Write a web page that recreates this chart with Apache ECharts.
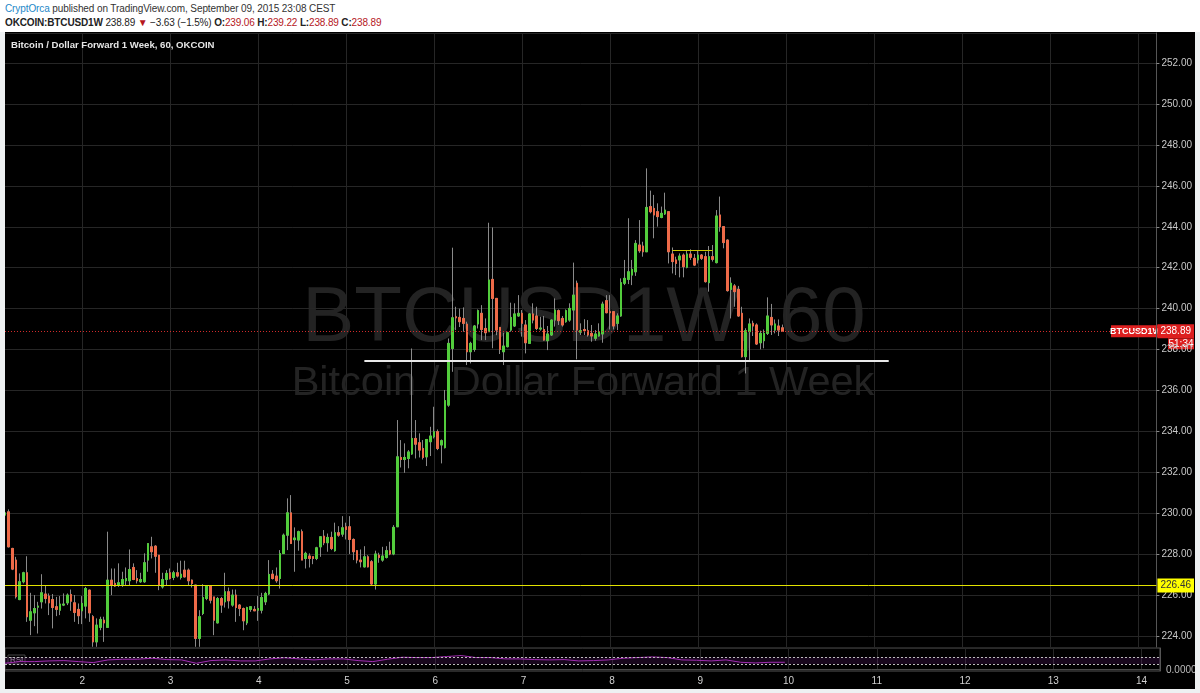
<!DOCTYPE html>
<html>
<head>
<meta charset="utf-8">
<script src="https://cdn.jsdelivr.net/npm/echarts@6/dist/echarts.min.js"></script>
<style>
html, body { margin:0; padding:0; width:1200px; height:693px; overflow:hidden; background:#eef1f2; font-family:"Liberation Sans", Arial, sans-serif; }
#head { position:absolute; left:0; top:0; width:1200px; height:32px; background:#fff; }
#l1 { position:absolute; left:5px; top:3px; font-size:10px; letter-spacing:-0.1px; color:#333; white-space:nowrap; }
#l2 { position:absolute; left:5px; top:17px; font-size:10px; letter-spacing:-0.15px; color:#222; white-space:nowrap; }
.b { font-weight:bold; }
.r { color:#b5171d; }
#main { position:absolute; left:5px; top:32px; width:1190px; height:657px; background:#000; }
</style>
</head>
<body>
<div id="head">
  <div id="l1"><span style="color:#1e88c8">CryptOrca</span> published on TradingView.com, September 09, 2015 23:08 CEST</div>
  <div id="l2"><span class="b">OKCOIN:BTCUSD1W</span> 238.89 <span class="r">▼</span> −3.63 (−1.5%) <span class="b">O:</span><span class="r">239.06</span> <span class="b">H:</span><span class="r">239.22</span> <span class="b">L:</span><span class="r">238.89</span> <span class="b">C:</span><span class="r">238.89</span></div>
</div>
<div id="main"></div>
<script>
// hourly candles, Sep 1 03:00 -> Sep 9 23:00
var opens = [229.90,230.06,228.27,227.70,225.77,226.64,227.08,224.76,225.12,225.40,
  225.66,226.04,225.94,225.77,225.42,225.25,225.50,225.61,226.02,225.61,
  225.29,225.22,225.45,226.23,224.93,223.70,224.41,224.76,224.41,226.72,
  226.56,226.48,226.52,226.69,226.69,227.34,226.80,226.64,226.64,227.70,
  228.35,228.38,227.94,226.39,226.75,227.08,226.85,227.08,226.85,227.21,
  227.21,226.72,226.48,223.87,225.09,225.82,226.43,225.90,224.63,225.82,
  225.66,226.15,225.50,225.99,225.50,225.33,224.63,225.29,225.29,225.25,
  225.25,225.66,226.04,227.01,226.92,226.80,228.02,228.92,230.01,228.70,
  228.68,229.09,227.78,227.90,227.87,227.78,228.35,228.87,228.55,228.81,
  228.16,229.04,228.97,229.33,229.33,228.71,228.16,227.70,227.37,227.86,
  227.62,226.53,227.94,227.70,227.83,228.16,228.00,229.33,232.72,232.62,
  232.67,232.89,233.65,233.44,233.16,232.75,233.49,233.73,233.98,233.33,
  233.20,235.28,238.05,239.60,239.57,239.52,239.24,237.89,238.00,239.25,
  239.77,239.03,238.87,241.43,240.50,239.08,237.89,238.14,238.95,239.15,
  239.64,239.77,239.20,238.30,239.74,239.64,239.00,238.98,238.43,238.71,
  239.44,239.90,239.52,239.36,239.44,239.93,241.24,238.85,238.98,238.92,
  238.79,238.55,238.66,238.76,240.39,239.85,239.85,239.28,239.64,241.24,
  241.43,241.64,241.80,243.11,243.06,242.78,244.99,244.90,244.74,244.46,
  244.63,244.74,242.67,242.38,242.38,242.62,242.02,242.67,242.46,242.38,
  242.62,242.54,241.27,242.54,242.25,244.58,244.01,243.35,240.94,241.11,
  240.94,239.77,237.65,238.87,239.28,239.20,238.33,238.43,238.79,239.57,
  238.95,239.15,239.06];
var closes = [230.01,228.35,227.26,225.91,226.64,227.08,224.93,225.17,225.33,225.45,
  226.10,225.82,225.61,225.38,225.29,225.55,225.55,225.99,225.69,225.14,
  224.98,225.58,226.31,225.12,223.70,224.52,224.80,224.63,226.72,226.48,
  226.43,226.59,226.75,226.80,227.24,226.75,226.69,226.75,227.57,228.51,
  228.11,227.89,226.48,226.75,227.05,226.80,227.08,226.92,227.01,226.88,
  226.69,226.56,223.87,224.93,225.87,226.43,225.74,224.76,225.82,225.50,
  226.15,225.71,225.99,225.38,225.33,224.73,225.38,225.42,225.22,225.33,
  225.87,226.07,227.00,226.80,226.69,228.02,228.92,230.01,228.51,228.78,
  229.09,227.70,228.03,227.78,227.78,228.30,228.84,228.55,228.81,228.27,
  229.04,228.92,229.28,229.20,228.71,228.11,227.70,227.62,227.86,227.37,
  226.53,228.00,227.83,227.90,228.16,228.00,229.30,232.75,232.62,232.72,
  232.99,233.65,233.37,233.08,232.72,233.60,233.77,233.98,233.16,233.54,
  235.50,238.30,239.55,239.55,239.36,239.28,237.89,238.30,239.15,239.90,
  238.98,238.82,241.40,240.50,238.95,238.00,238.17,238.82,239.57,239.74,
  239.77,239.28,238.33,239.74,239.44,239.03,239.05,238.46,238.76,239.44,
  239.93,239.41,239.20,239.90,240.01,240.66,238.95,238.92,238.92,238.71,
  238.66,238.76,238.87,240.22,239.80,239.80,239.15,239.64,241.27,241.48,
  241.80,241.92,243.19,242.83,242.78,244.95,244.74,244.58,244.50,244.66,
  244.82,242.78,242.30,242.21,242.57,242.05,242.67,242.51,242.13,242.62,
  242.46,241.32,242.54,242.41,244.53,244.01,243.23,240.88,241.24,240.83,
  239.64,237.65,238.92,239.25,239.15,238.27,238.79,238.79,239.64,239.20,
  239.25,238.95,238.89];
var lows = [229.00,228.32,227.21,225.82,225.74,226.56,224.68,224.03,224.47,224.11,
  225.33,225.58,225.01,224.36,224.96,225.01,225.45,225.50,225.22,224.68,
  224.57,224.57,224.85,224.68,223.46,223.46,224.27,223.70,224.41,225.99,
  226.39,226.39,226.39,226.48,226.48,226.72,226.56,226.59,226.59,227.13,
  227.78,227.08,226.23,226.31,226.48,226.75,226.72,226.85,226.75,226.85,
  226.48,226.36,223.46,223.46,225.01,225.74,225.58,224.03,224.60,225.12,
  225.38,225.33,225.42,224.68,224.96,224.27,224.52,225.17,225.22,224.73,
  225.09,225.50,225.99,226.75,226.59,226.31,228.02,228.19,228.51,227.13,
  228.16,227.70,227.29,227.34,227.50,227.70,227.86,228.43,228.11,228.19,
  228.11,228.84,228.84,228.71,228.00,227.70,227.54,227.34,227.34,227.34,
  226.48,226.26,227.57,227.62,227.78,227.94,227.94,229.33,232.23,231.97,
  232.19,232.85,232.67,232.72,232.62,232.30,232.79,233.65,233.08,232.43,
  233.16,235.20,236.91,238.95,239.10,238.87,237.24,237.32,237.89,239.03,
  238.46,238.46,238.87,238.06,238.70,237.78,237.24,238.10,238.87,239.10,
  239.60,238.63,237.81,238.30,239.28,238.95,238.92,238.43,237.97,238.66,
  239.12,239.20,239.12,239.31,239.36,238.95,237.52,238.71,238.71,238.63,
  238.38,238.43,238.63,238.33,239.77,238.98,238.98,238.95,239.60,241.15,
  241.20,241.15,241.60,242.73,242.54,242.78,244.66,243.44,244.01,244.42,
  244.58,242.21,241.72,241.64,241.53,241.53,241.97,242.38,242.08,242.21,
  242.38,241.27,240.83,242.30,242.21,243.76,242.95,240.83,239.52,240.09,
  239.60,237.61,236.83,237.48,238.66,238.22,238.01,238.06,238.71,238.71,
  238.79,238.66,238.89];
var highs = [230.39,230.18,228.30,227.86,227.05,227.13,227.89,226.10,225.99,225.66,
  227.01,226.48,226.07,226.04,225.90,225.94,226.07,226.07,226.26,225.99,
  225.58,225.94,226.39,226.26,225.01,224.85,224.93,224.93,229.09,227.29,
  227.29,227.54,227.13,227.34,228.22,227.54,227.21,227.08,228.03,228.51,
  228.84,228.43,227.94,227.08,227.21,227.29,227.18,227.57,227.67,227.67,
  227.29,226.75,226.48,225.25,226.52,226.48,226.48,225.90,225.90,225.90,
  227.08,226.36,226.26,226.26,225.55,225.38,225.42,225.45,225.45,225.94,
  226.10,226.15,227.70,227.21,227.34,228.19,229.00,230.72,230.88,229.30,
  229.14,229.20,228.11,228.03,227.87,228.35,228.87,229.17,229.00,229.09,
  229.53,229.36,229.85,229.53,229.85,228.76,228.19,228.22,228.38,227.94,
  227.70,228.16,228.06,228.35,228.38,228.60,229.41,234.55,233.57,233.41,
  233.08,238.05,234.55,233.90,233.57,233.62,234.22,235.20,234.09,233.60,
  236.02,238.54,242.98,240.09,240.00,240.06,239.36,238.38,239.20,239.96,
  240.17,239.52,244.20,243.97,240.50,239.10,238.82,238.87,240.29,240.26,
  240.66,239.93,239.44,239.77,240.26,240.09,239.60,239.64,239.15,239.47,
  240.50,239.96,239.64,239.96,240.26,242.25,241.37,239.28,239.48,239.44,
  239.20,238.95,239.28,240.34,240.66,240.66,239.85,239.77,241.48,242.38,
  244.42,242.38,243.35,244.33,243.27,246.86,245.77,245.56,245.15,244.99,
  245.67,244.74,242.99,242.54,242.70,242.70,242.83,242.90,242.67,242.83,
  242.67,242.78,243.06,243.11,244.82,245.48,244.04,243.39,241.53,241.20,
  241.11,240.09,239.04,239.52,239.41,239.28,238.92,238.98,240.55,240.23,
  239.47,239.47,239.22];

// RSI read every 4 hours
var rsiHours = [0,4,8,12,16,20,24,28,32,36,40,44,48,52,56,60,64,68,72,76,80,84,88,92,96,100,
  104,108,112,116,120,124,128,132,136,140,144,148,152,156,160,164,168,172,176,180,184,188,
  192,196,200,204,208,212];
var rsiVals = [34,44,44,48,50,44,38,54,58,58,64,56,54,34,50,54,48,48,60,67,60,54,60,60,50,44,
  58,70,68,68,74,80,68,68,60,60,56,54,56,48,50,54,64,68,72,68,54,52,48,54,40,36,40,40];

var dayLabels = ['2','3','4','5','6','7','8','9','10','11','12','13','14'];
var lastPrice = 238.89;
var supportLevel = 226.46;
var neckline = { from: 98, to: 241, value: 237.43 };
var rangeTop = { from: 182, to: 193, value: 242.87 };

// hourly axis, Sep 1 03:00 .. Sep 14 05:00
var cats = [];
for (var i = 0; i < 315; i++) {
  var h = i + 3, hh = h % 24;
  cats.push('Sep ' + (1 + Math.floor(h / 24)) + ' ' + (hh < 10 ? '0' : '') + hh + ':00');
}
function isMidnight(idx, v) { return v.slice(-5) === '00:00'; }

var wickData = opens.map(function (o, i) { return [o, closes[i], lows[i], highs[i]]; });
var bodyData = opens.map(function (o, i) {
  return [o, closes[i], Math.min(o, closes[i]), Math.max(o, closes[i])];
});
var rsiData = rsiHours.map(function (h, i) { return [cats[h], rsiVals[i]]; });

var GRID = '#262626';
var chart = echarts.init(document.getElementById('main'));
chart.setOption({
  animation: false,
  backgroundColor: '#000',
  textStyle: { fontFamily: 'Liberation Sans' },
  grid: [
    { left: 0, top: 1, width: 1155, height: 614 },
    { left: 0, top: 616, width: 1155, height: 23, show: true, borderColor: '#555', borderWidth: 1 }
  ],
  xAxis: [
    { gridIndex: 0, type: 'category', data: cats, boundaryGap: false,
      axisLine: { show: false }, axisTick: { show: false }, axisLabel: { show: false },
      splitLine: { show: true, interval: isMidnight, lineStyle: { color: GRID } } },
    { gridIndex: 1, type: 'category', data: cats, boundaryGap: false,
      axisLine: { show: true, lineStyle: { color: '#4a4a4a' } }, axisTick: { show: false },
      axisLabel: { show: true, interval: isMidnight, color: '#d0d0d0', fontSize: 10, margin: 5,
        formatter: function (v) { return dayLabels[parseInt(v.split(' ')[1], 10) - 2]; } },
      splitLine: { show: true, interval: isMidnight, lineStyle: { color: GRID } } }
  ],
  yAxis: [
    { gridIndex: 0, type: 'value', position: 'right', min: 223.45, max: 253.48, splitNumber: 15,
      axisLine: { show: true, lineStyle: { color: '#555' } },
      axisTick: { show: true, length: 3, lineStyle: { color: '#888' } },
      axisLabel: { color: '#c8c8c8', fontSize: 10, margin: 5, showMinLabel: false, showMaxLabel: false,
        formatter: function (v) { return v.toFixed(2); } },
      splitLine: { show: true, lineStyle: { color: GRID } } },
    { gridIndex: 1, type: 'value', position: 'right', min: -12, max: 125,
      axisLine: { show: true, lineStyle: { color: '#555' } },
      axisTick: { show: false }, axisLabel: { show: false }, splitLine: { show: false } }
  ],
  series: [
    { name: 'wick', type: 'candlestick', xAxisIndex: 0, yAxisIndex: 0, barWidth: 2, data: wickData,
      itemStyle: { color: '#8a8a8a', color0: '#8a8a8a', borderColor: '#8a8a8a', borderColor0: '#8a8a8a', borderWidth: 1 },
      markLine: { symbol: 'none', silent: true, animation: false,
        data: [
          { yAxis: lastPrice, lineStyle: { color: '#d02a2a', type: [1, 2], width: 1 },
            label: { show: true, position: 'end', distance: 1, formatter: lastPrice.toFixed(2),
              backgroundColor: '#dd1f1f', color: '#fff', fontSize: 10, padding: [2, 3] } },
          { yAxis: supportLevel, lineStyle: { color: '#e2e200', type: 'solid', width: 1 },
            label: { show: true, position: 'end', distance: 1, formatter: supportLevel.toFixed(2),
              backgroundColor: '#ffff00', color: '#333', fontSize: 10, padding: [2, 3] } },
          [ { coord: [cats[neckline.from], neckline.value], lineStyle: { color: '#e8e8e8', type: 'solid', width: 2 },
              label: { show: false } },
            { coord: [cats[neckline.to], neckline.value] } ],
          [ { coord: [cats[rangeTop.from], rangeTop.value], lineStyle: { color: '#c8c800', type: 'solid', width: 1 },
              label: { show: false } },
            { coord: [cats[rangeTop.to], rangeTop.value] } ]
        ] } },
    { name: 'body', type: 'candlestick', xAxisIndex: 0, yAxisIndex: 0, barWidth: 2, data: bodyData,
      itemStyle: { color: '#52cc3c', color0: '#ee6a48', borderColor: '#52cc3c', borderColor0: '#ee6a48', borderWidth: 1 } },
    { name: 'RSI', type: 'line', xAxisIndex: 1, yAxisIndex: 1, data: rsiData, symbol: 'none',
      lineStyle: { color: '#a02cb0', width: 1 },
      markArea: { silent: true, itemStyle: { color: 'rgba(110,30,130,0.22)' }, data: [[{ yAxis: 30 }, { yAxis: 70 }]] },
      markLine: { symbol: 'none', silent: true,
        data: [
          { yAxis: 70, lineStyle: { color: '#bdbdbd', type: [2, 2], width: 1 }, label: { show: false } },
          { yAxis: 30, lineStyle: { color: '#bdbdbd', type: [2, 2], width: 1 }, label: { show: false } }
        ] } }
  ]
});

// tags beside the price axis, placed through the y scales
var py = chart.convertToPixel({ yAxisIndex: 0 }, lastPrice);
var pz = chart.convertToPixel({ yAxisIndex: 1 }, 0);
chart.setOption({
  graphic: [
    { type: 'text', left: 6, top: 8, style: { text: 'Bitcoin / Dollar Forward 1 Week, 60, OKCOIN',
      fill: '#e6e6e6', font: 'bold 9.6px "Liberation Sans"' } },
    { type: 'text', x: 579, y: 287, z: -1, style: { text: 'BTCUSD1W, 60', fill: '#232323',
      font: '78px "Liberation Sans"', align: 'center', verticalAlign: 'middle' } },
    { type: 'text', x: 578, y: 352, z: -1, style: { text: 'Bitcoin / Dollar Forward 1 Week', fill: '#232323',
      font: '41.5px "Liberation Sans"', align: 'center', verticalAlign: 'middle' } },
    { type: 'rect', shape: { x: 3, y: 623, width: 17, height: 9 }, style: { fill: 'none', stroke: '#444', lineWidth: 1 } },
    { type: 'text', x: 5, y: 627.5, style: { text: 'RSI', fill: '#a8a8a8', font: '8px "Liberation Sans"', verticalAlign: 'middle' } },
    { type: 'text', x: 1161, y: pz + 1, style: { text: '0.0000', fill: '#bbb', font: '10px "Liberation Sans"', verticalAlign: 'middle' } },
    { type: 'rect', shape: { x: 1106, y: py - 6, width: 49, height: 12 }, style: { fill: '#dd1f1f' } },
    { type: 'text', x: 1130.5, y: py, style: { text: 'BTCUSD1W', fill: '#fff', font: 'bold 9px "Liberation Sans"',
      align: 'center', verticalAlign: 'middle' } },
    { type: 'rect', shape: { x: 1163, y: py + 7, width: 26, height: 11 }, style: { fill: '#dd1f1f' } },
    { type: 'text', x: 1176, y: py + 12.5, style: { text: '51:34', fill: '#fff', font: '10px "Liberation Sans"',
      align: 'center', verticalAlign: 'middle' } }
  ]
});
</script>
</body>
</html>
